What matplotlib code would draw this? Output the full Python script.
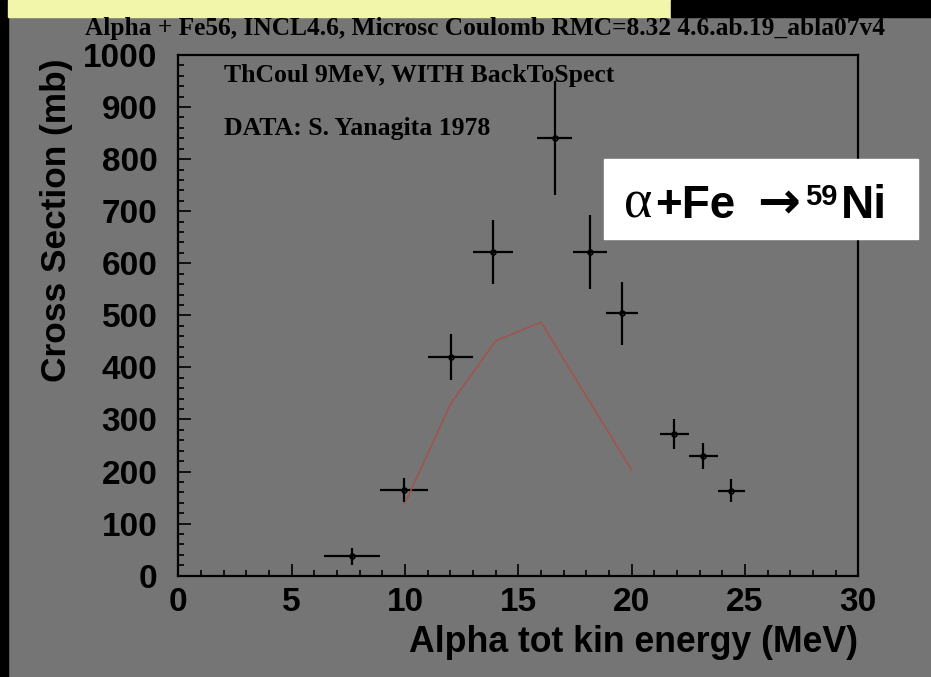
import numpy as np
import matplotlib
matplotlib.use("Agg")
import matplotlib.pyplot as plt
from matplotlib.ticker import MultipleLocator

# data (Yanagita 1978, alpha + Fe -> 59Ni)
energy = [7.65, 9.97, 12.02, 13.9, 16.6, 18.16, 19.59, 21.87, 23.16, 24.4]
xsec = [37, 165, 420, 622, 841, 622, 504, 272, 229, 163]
energy_err = [1.24, 1.05, 1.0, 0.88, 0.79, 0.74, 0.71, 0.64, 0.63, 0.6]
xsec_err = [17, 23, 45, 61, 110, 71, 61, 29, 25, 22]

# INCL4.6 + ABLA07 calculation
model_energy = [10, 12, 14, 16, 20]
model_xsec = [139, 329, 451, 487, 203]

xticks = [0, 5, 10, 15, 20, 25, 30]
yticks = [0, 100, 200, 300, 400, 500, 600, 700, 800, 900, 1000]

bg = "#757575"
sans = ["Liberation Sans", "DejaVu Sans"]
serif = ["Liberation Serif", "DejaVu Serif"]

fig = plt.figure(figsize=(9.31, 6.77), dpi=100)
fig.patch.set_facecolor(bg)

# frame strips at the edges of the screenshot
fig.patches.append(plt.Rectangle((0, 0), 8 / 931, 1, transform=fig.transFigure,
                                 color="black", zorder=0))
fig.patches.append(plt.Rectangle((8 / 931, 1 - 17 / 677), 663 / 931, 17 / 677,
                                 transform=fig.transFigure, color="#f2f6ab", zorder=0))
fig.patches.append(plt.Rectangle((671 / 931, 1 - 17 / 677), 260 / 931, 17 / 677,
                                 transform=fig.transFigure, color="black", zorder=0))

ax = fig.add_axes([178.3 / 931, 101.3 / 677, 680 / 931, 520.7 / 677])
ax.set_facecolor(bg)

ax.errorbar(energy, xsec, xerr=energy_err, yerr=xsec_err, fmt="o", color="black",
            ms=3.5, mfc="none", mew=1.2, elinewidth=1.6, capsize=0)
ax.plot(model_energy, model_xsec, color="#a4524c", lw=1.1)

ax.set_xlim(0, 30)
ax.set_ylim(0, 1000)
ax.set_xticks(xticks)
ax.set_yticks(yticks)
ax.xaxis.set_minor_locator(MultipleLocator(1))
ax.yaxis.set_minor_locator(MultipleLocator(20))
ax.tick_params(which="both", direction="in", width=1.2, color="black")
ax.tick_params(which="major", length=9)
ax.tick_params(which="minor", length=4.5)
ax.tick_params(axis="x", pad=8)
ax.tick_params(axis="y", pad=15)
for lab in ax.get_xticklabels() + ax.get_yticklabels():
    lab.set_fontfamily(sans)
    lab.set_fontweight("bold")
    lab.set_fontsize(24)
for sp in ax.spines.values():
    sp.set_linewidth(1.6)
    sp.set_color("black")

fig.text(485 / 931, 1 - 28 / 677,
         "Alpha + Fe56, INCL4.6, Microsc Coulomb RMC=8.32 4.6.ab.19_abla07v4",
         family=serif, weight="bold", fontsize=18.3, ha="center", va="center")
fig.text(224 / 931, 1 - 82 / 677, "ThCoul 9MeV, WITH BackToSpect",
         family=serif, weight="bold", fontsize=18.5, ha="left", va="baseline")
fig.text(224 / 931, 1 - 135 / 677, "DATA: S. Yanagita 1978",
         family=serif, weight="bold", fontsize=18.5, ha="left", va="baseline")

fig.text(57 / 931, 1 - 58 / 677, "Cross Section (mb)", family=sans, weight="bold",
         fontsize=25.4, rotation=90, ha="center", va="top")
fig.text(858 / 931, 1 - 643 / 677, "Alpha tot kin energy (MeV)", family=sans,
         weight="bold", fontsize=25.7, ha="right", va="center")

# white label box with the reaction
fig.patches.append(plt.Rectangle((604 / 931, 1 - 239 / 677), 314 / 931, 80 / 677,
                                 transform=fig.transFigure, color="white", zorder=3))
# (text, family, weight, size, left px, baseline px)
pieces = [("α", ["Liberation Serif", "DejaVu Serif"], "normal", 39, 624, 218),
          ("+Fe", sans, "bold", 33, 655, 218),
          ("→", ["DejaVu Sans"], "bold", 37, 757, 218),
          ("59", sans, "bold", 21, 805, 205),
          ("Ni", sans, "bold", 33, 841, 218)]
for txt, fam, wt, fs, x0, y0 in pieces:
    fig.text(x0 / 931, 1 - y0 / 677, txt, family=fam, weight=wt,
             fontsize=fs, ha="left", va="baseline", zorder=4)

fig.savefig("out.png", dpi=100, facecolor=fig.get_facecolor())
